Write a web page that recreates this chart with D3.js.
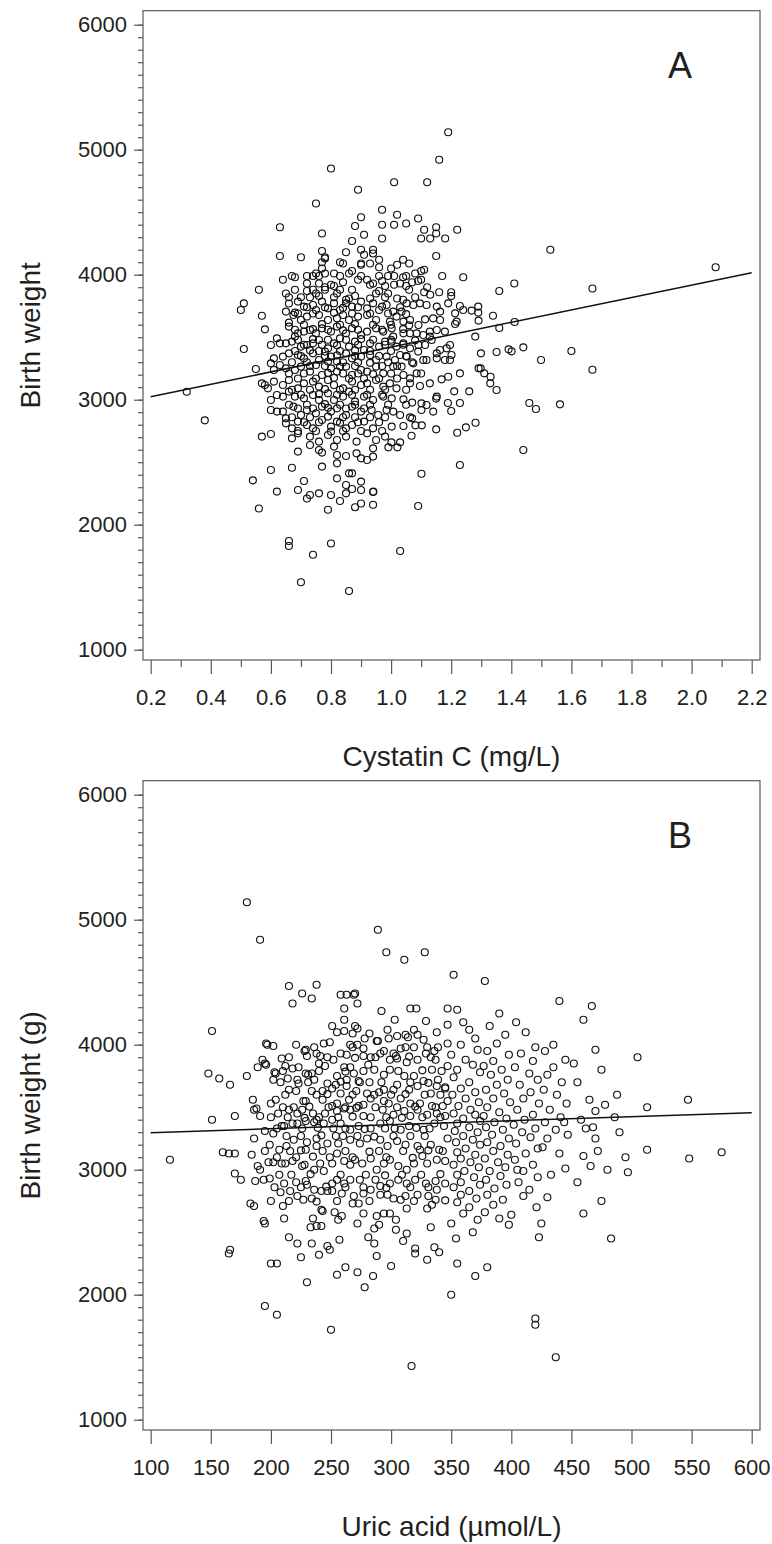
<!DOCTYPE html>
<html>
<head>
<meta charset="utf-8">
<script src="https://cdn.jsdelivr.net/npm/d3@7"></script>
<style>
  body { margin: 0; background: #fff; }
  text { font-family: "Liberation Sans", Arial, sans-serif; fill: #231f20; }
</style>
</head>
<body>
<div id="chart"></div>
<script>
// Panel A: cystatin C (mg/L) vs birth weight (g)
var cystatinPoints = [
  [1.19,5140],[1.16,4920],[1.01,4740],[1.12,4740],[0.80,4850],[0.89,4680],[0.75,4570],[0.97,4520],[0.90,4460],[1.02,4480],
  [1.09,4450],[0.88,4390],[0.63,4380],[0.97,4400],[1.01,4400],[1.05,4410],[1.11,4360],[1.15,4380],[1.22,4360],[0.77,4330],
  [0.91,4320],[0.87,4270],[0.97,4290],[1.10,4290],[1.13,4290],[1.15,4330],[1.18,4290],[1.53,4200],[0.63,4150],[0.70,4140],
  [0.77,4190],[0.78,4140],[0.78,4130],[0.77,4100],[0.85,4180],[0.90,4200],[0.91,4160],[0.90,4090],[0.90,4080],[0.94,4200],
  [0.94,4170],[0.93,4090],[0.96,4120],[0.96,4060],[0.83,4100],[0.84,4090],[1.15,4150],
  [0.81,4010],[0.83,3990],[0.77,4050],[0.78,4010],[0.76,3990],[0.75,4010],[0.74,3990],[0.72,3990],[0.67,3990],[0.68,3980],
  [0.64,3960],[0.56,3880],[0.65,3850],[0.66,3820],[0.68,3880],[0.72,3930],[0.72,3870],[0.73,3820],[0.74,3880],[0.75,3850],
  [0.78,3900],[0.78,3880],[0.80,3920],[0.81,3910],[0.82,3850],[0.83,3880],[0.85,3800],[0.86,3810],[0.87,3880],[0.89,3960],
  [0.90,3990],[0.92,3960],[0.93,3920],[0.94,3930],[0.95,3850],[0.87,4030],[0.86,4010],
  [1.00,4050],[1.02,4080],[1.04,4120],[1.06,4090],[1.10,4030],[1.08,4010],[1.11,4040],[1.10,3960],[0.96,3990],[0.99,3990],
  [1.01,3990],[1.04,3980],[1.05,3990],[0.98,3910],[1.01,3920],[1.03,3930],[1.05,3910],[1.06,3880],[1.09,3950],[1.12,3900],
  [1.11,3860],[1.13,3840],[1.16,3860],[1.20,3860],[1.20,3830],[1.17,3990],[1.24,3980],[0.96,3870],[0.99,3850],[1.02,3810],
  [1.04,3800],[1.41,3930],[1.36,3870],
  [0.66,3770],[0.69,3785],[0.71,3745],[0.74,3758],[0.75,3718],[0.77,3785],[0.79,3731],[0.81,3771],[0.83,3718],[0.85,3771],
  [0.87,3745],[0.90,3785],[0.92,3731],[0.94,3771],[0.96,3718],[0.65,3705],[0.68,3697],[0.50,3718],[0.51,3771],
  [0.675,3678],[0.70,3638],[0.72,3665],[0.76,3678],[0.79,3638],[0.82,3651],[0.84,3678],[0.86,3638],[0.89,3665],[0.92,3678],
  [0.95,3638],[0.66,3617],[0.57,3672],
  [0.66,3585],[0.69,3531],[0.71,3545],[0.73,3558],[0.75,3531],[0.77,3571],[0.80,3545],[0.82,3585],[0.85,3531],[0.87,3571],
  [0.90,3518],[0.92,3545],[0.95,3571],[0.68,3505],[0.58,3563],[0.62,3491],
  [0.65,3451],[0.67,3465],[0.70,3425],[0.72,3438],[0.74,3451],[0.76,3478],[0.79,3411],[0.81,3451],[0.83,3491],[0.86,3425],
  [0.88,3465],[0.91,3398],[0.93,3451],[0.96,3425],[0.63,3451],[0.60,3438],[0.51,3406],
  [0.64,3345],[0.66,3371],[0.69,3358],[0.71,3331],[0.74,3371],[0.76,3318],[0.78,3385],[0.80,3345],[0.82,3305],[0.85,3371],
  [0.87,3331],[0.90,3345],[0.93,3358],[0.95,3318],[0.61,3331],[0.63,3278],[0.60,3291],[0.61,3238],
  [0.65,3251],[0.68,3238],[0.70,3265],[0.73,3225],[0.75,3278],[0.77,3198],[0.80,3251],[0.82,3225],[0.85,3265],[0.87,3198],
  [0.90,3238],[0.92,3225],[0.95,3265],[0.55,3246],
  [0.57,3131],[0.58,3118],[0.59,3091],[0.61,3145],[0.64,3118],[0.66,3158],[0.69,3091],[0.71,3131],[0.74,3145],[0.76,3105],
  [0.79,3158],[0.81,3118],[0.84,3091],[0.87,3145],[0.90,3118],[0.92,3131],[0.95,3158],
  [0.60,2998],[0.62,3038],[0.64,3025],[0.66,3065],[0.68,3025],[0.71,3011],[0.74,3038],[0.76,2998],[0.79,3051],[0.81,2998],
  [0.84,3025],[0.86,3065],[0.88,2985],[0.91,3025],[0.94,2998],
  [0.62,2905],[0.64,2905],[0.65,2851],[0.675,2945],[0.70,2878],[0.72,2918],[0.75,2891],[0.77,2945],[0.80,2905],[0.82,2931],
  [0.85,2878],[0.87,2945],[0.90,2905],[0.935,2918],[0.957,2878],[0.60,2918],
  [0.65,2811],[0.67,2771],[0.69,2825],[0.72,2798],[0.74,2771],[0.77,2838],[0.80,2785],[0.82,2825],[0.85,2771],[0.87,2798],
  [0.91,2825],[0.94,2771],
  [0.57,2705],[0.60,2726],[0.67,2691],[0.69,2731],[0.73,2705],[0.76,2665],[0.79,2718],[0.82,2678],[0.85,2705],[0.885,2665],
  [0.92,2731],[0.95,2678],
  [0.69,2585],[0.73,2638],[0.76,2598],[0.77,2577],[0.81,2625],[0.82,2558],[0.85,2550],[0.885,2571],[0.90,2531],[0.94,2611],
  [0.67,2456],[0.77,2465],[0.82,2491],[0.86,2411],[0.87,2411],[0.92,2518],[0.94,2545],[0.60,2438],
  [0.82,2371],[0.54,2355],[0.71,2350],[0.90,2345],[0.85,2318],
  [0.62,2265],[0.69,2278],[0.73,2238],[0.76,2251],[0.80,2238],[0.85,2251],[0.87,2286],[0.90,2278],[0.94,2262],
  [0.32,3064],[0.38,2835],
  [0.985,3758],[1.007,3705],[1.035,3705],[1.052,3771],[1.074,3758],[1.096,3771],[1.118,3758],[1.152,3745],[1.19,3771],[1.229,3750],
  [1.29,3745],[1.29,3697],[1.268,3713],[1.24,3718],[1.213,3691],[1.163,3705],
  [0.996,3625],[1.018,3665],[1.041,3625],[1.063,3638],[1.091,3598],[1.113,3643],[1.14,3651],[1.163,3638],[1.179,3545],[1.218,3625],
  [1.213,3606],[1.339,3672],[1.291,3633],
  [0.974,3545],[1.002,3571],[1.007,3505],[1.041,3531],[1.063,3531],[1.085,3531],[1.107,3518],[1.129,3545],[1.152,3558],[1.129,3505],
  [1.28,3505],[1.36,3574],[1.411,3622],
  [0.98,3465],[1.002,3465],[1.018,3425],[1.041,3451],[1.063,3411],[1.091,3438],[1.113,3438],[1.135,3478],[1.163,3398],[1.185,3411],
  [1.196,3438],[1.152,3371],[1.299,3371],[1.351,3382],[1.391,3403],[1.401,3387],[1.44,3419],
  [0.985,3345],[1.013,3318],[1.03,3358],[1.052,3345],[1.074,3291],[1.107,3318],[1.118,3318],[1.152,3331],[1.179,3318],[1.196,3318],
  [1.201,3358],[1.499,3318],
  [0.974,3211],[1.007,3265],[1.035,3265],[1.041,3198],[1.063,3171],[1.085,3211],[1.168,3163],[1.19,3184],[1.229,3211],[1.291,3251],
  [1.298,3251],[1.31,3211],[1.331,3184],
  [0.974,3105],[0.996,3131],[1.018,3091],[1.063,3131],[1.096,3110],[1.129,3131],[1.21,3067],[1.26,3067],[1.33,3131],[1.351,3078],
  [0.974,3025],[1.002,3011],[1.041,3003],[1.07,2977],[1.101,2971],[1.118,2958],[1.152,3025],[1.15,3009],[1.189,2974],[1.229,2974],
  [1.46,2974],
  [0.985,2918],[1.007,2905],[1.03,2878],[1.063,2859],[1.101,2918],[1.14,2905],[1.2,2910],[1.482,2926],
  [1.002,2785],[1.041,2790],[1.07,2851],[1.081,2795],[1.102,2795],[1.15,2763],[1.22,2736],[1.249,2779],[1.281,2816],
  [0.98,2705],[1.001,2659],[1.03,2659],[1.068,2712],[0.991,2619],[1.021,2619],[1.44,2598],
  [1.101,2408],[1.229,2478],[0.941,2265],
  [0.56,2130],[0.66,1870],[0.66,1830],[0.70,1540],[0.74,1760],[0.80,1850],[0.86,1470],[1.03,1790],[0.72,2210],[0.83,2190],
  [0.88,2140],[0.90,2170],[0.79,2120],[0.94,2160],[1.09,2150],
  [1.562,2963],[1.60,3390],[1.67,3890],[1.67,3240],[2.08,4060],
  // dense core, second pass
  [0.76,3930],[0.84,3940],[0.97,3950],[1.07,3940],
  [0.70,3820],[0.76,3830],[0.81,3820],[0.88,3830],[0.93,3810],[0.98,3820],[1.08,3820],
  [0.72,3740],[0.78,3740],[0.84,3735],[0.89,3740],[0.97,3745],[1.03,3740],
  [0.69,3690],[0.74,3690],[0.81,3695],[0.87,3690],[0.93,3690],[0.99,3690],[1.05,3685],
  [0.71,3600],[0.77,3605],[0.83,3600],[0.88,3605],[0.94,3600],[1.00,3600],[1.06,3595],
  [0.68,3560],[0.74,3565],[0.79,3560],[0.84,3555],[0.89,3560],[0.97,3560],[1.04,3565],
  [0.69,3480],[0.74,3485],[0.79,3480],[0.85,3480],[0.90,3485],[0.94,3480],[1.00,3480],[1.08,3475],
  [0.71,3440],[0.77,3440],[0.82,3435],[0.89,3440],[0.98,3440],[1.04,3440],
  [0.68,3390],[0.73,3395],[0.76,3390],[0.83,3390],[0.88,3395],[0.93,3390],[1.00,3390],[1.09,3385],
  [0.70,3350],[0.78,3350],[0.82,3355],[0.88,3350],[0.96,3350],[1.05,3350],
  [0.67,3300],[0.72,3300],[0.79,3305],[0.84,3300],[0.89,3300],[0.93,3295],[0.99,3300],[1.07,3300],
  [0.73,3270],[0.78,3270],[0.83,3265],[0.88,3270],[0.97,3270],[1.02,3270],
  [0.66,3210],[0.71,3210],[0.79,3215],[0.84,3210],[0.89,3210],[0.94,3205],[1.00,3210],[1.10,3210],
  [0.69,3170],[0.75,3170],[0.81,3175],[0.86,3170],[0.91,3170],[0.96,3170],[1.02,3170],
  [0.67,3080],[0.73,3080],[0.78,3085],[0.83,3080],[0.88,3080],[0.93,3080],[0.98,3080],[1.05,3080],
  [0.70,3040],[0.76,3045],[0.82,3040],[0.87,3040],[0.92,3040],[0.97,3040],
  [0.66,2960],[0.72,2960],[0.78,2965],[0.83,2960],[0.88,2960],[0.93,2960],[0.99,2960],[1.05,2960],
  [0.69,2930],[0.74,2930],[0.79,2935],[0.85,2930],[0.91,2930],
  [0.67,2860],[0.73,2860],[0.79,2865],[0.84,2860],[0.88,2860],[0.93,2860],[0.98,2860],
  [0.71,2820],[0.76,2820],[0.83,2815],[0.89,2820],[0.96,2820],
  [0.69,2750],[0.75,2750],[0.80,2745],[0.84,2750],[0.90,2750],[0.97,2750]
];

// Panel B: uric acid (umol/L) vs birth weight (g)
var uricPoints = [
  [180,5140],[191,4840],[289,4920],[296,4740],[311,4680],[328,4740],
  [215,4470],[238,4480],[226,4410],[234,4370],[218,4330],[258,4400],[263,4400],[269,4400],[270,4410],[272,4330],[261,4290],
  [292,4270],[303,4200],[316,4290],[321,4290],[329,4190],[347,4290],[347,4160],[151,4110],
  [261,4200],[251,4150],[255,4100],[261,4110],[270,4150],[272,4130],[268,4090],
  [282,4090],[278,4050],[288,4030],[289,4030],[297,4120],[298,4050],[305,4070],[312,4080],[314,4060],[319,4120],[322,4080],
  [327,4040],[338,4100],[347,4010],
  [196,4010],[197,4000],[202,3990],[221,4000],[229,3960],[228,3950],[236,3980],[244,4010],[249,4020],[238,3930],[241,3910],
  [230,3910],[266,4000],[268,3980],[272,4000],[277,3970],[294,3950],[302,3930],[308,3970],[312,3980],[319,3980],[330,3980],
  [336,3950],[339,3980],
  [193,3880],[195,3850],[189,3820],[196,3840],[209,3890],[212,3830],[218,3810],[223,3820],[229,3770],[234,3770],[240,3850],
  [245,3830],[252,3880],[258,3930],[261,3820],[266,3820],[255,3750],[263,3920],[277,3910],[283,3900],[291,3930],[299,3880],
  [304,3910],[305,3890],[313,3860],[322,3880],[329,3930],[337,3880],[347,3830],
  [148,3770],[157,3730],[166,3680],[180,3750],[203,3780],[204,3770],[202,3720],[214,3730],[222,3720],[223,3690],[231,3760],
  [236,3720],[247,3690],[254,3680],[263,3720],[269,3770],[273,3710],[274,3700],[281,3840],[286,3800],[294,3760],[299,3800],
  [305,3680],[311,3750],[319,3750],[327,3710],[334,3800],[339,3720],[345,3650],
  [215,3640],[221,3630],[234,3630],[243,3630],[251,3650],[258,3610],[263,3670],[271,3630],[280,3610],[290,3620],[294,3640],
  [302,3640],[308,3570],[315,3640],[322,3670],[333,3610],[338,3670],[345,3660],[185,3560],[200,3530],[204,3560],[227,3550],
  [229,3550],[243,3560],[255,3530],[265,3560],[277,3520],[283,3570],[294,3550],[298,3530],[316,3530],[324,3530],[334,3510],
  [343,3510],[347,3550],
  [151,3400],[170,3430],[186,3480],[188,3490],[191,3430],[206,3450],[215,3480],[222,3450],[226,3480],[235,3450],[238,3400],
  [245,3450],[251,3510],[255,3470],[261,3490],[266,3480],[273,3510],[277,3430],[293,3480],[302,3440],[311,3470],[316,3430],
  [322,3480],[330,3440],[338,3450],[345,3430],
  [195,3310],[202,3290],[209,3350],[211,3350],[218,3370],[222,3370],[229,3390],[236,3380],[244,3370],[251,3400],[258,3370],
  [266,3320],[273,3350],[283,3330],[291,3370],[299,3390],[308,3320],[315,3350],[327,3320],[336,3370],[344,3350],
  [116,3080],[160,3140],[165,3130],[170,3130],[184,3120],[186,3250],[199,3200],[207,3160],[213,3190],[219,3240],[230,3220],
  [238,3250],[247,3210],[254,3270],[256,3210],[266,3240],[274,3210],[280,3250],[291,3240],[297,3190],[305,3230],[312,3200],
  [322,3190],[324,3160],[333,3200],[340,3160],[347,3250],[229,3160],[238,3190],
  [189,3030],[191,3000],[198,3060],[202,3060],[209,3050],[212,3050],[218,3070],[226,3030],[228,3040],[236,3000],[241,3050],
  [244,2990],[251,3050],[255,3130],[261,3070],[266,3040],[270,3080],[276,3050],[283,3090],[288,3000],[294,3050],[299,3080],
  [306,3030],[313,3000],[319,3050],[326,3110],[330,3050],[338,3080],[345,3070],
  [170,2970],[175,2920],[187,2910],[194,2920],[199,2930],[211,2890],[216,2830],[221,2900],[229,2910],[230,2880],[236,2840],
  [242,2830],[247,2830],[251,2890],[255,2920],[261,2890],[266,2920],[274,2920],[283,2840],[287,2920],[291,2870],[299,2890],
  [306,2920],[313,2890],[320,2920],[329,2890],[337,2910],[338,2840],[345,2890],
  [208,2820],[222,2790],[227,2760],[234,2770],[251,2830],[259,2810],[269,2790],[277,2810],[291,2800],[297,2800],[302,2770],
  [308,2760],[312,2790],[322,2800],[331,2790],[337,2760],
  [183,2730],[186,2710],[210,2710],[242,2680],[243,2670],[253,2660],[259,2630],[268,2730],[273,2730],[277,2650],[288,2630],
  [294,2650],[299,2650],[304,2600],[313,2690],[330,2690],[334,2720],
  [194,2590],[195,2570],[211,2610],[235,2610],[233,2540],[238,2550],[242,2550],[256,2600],[272,2570],[286,2530],[290,2560],
  [304,2520],[313,2490],[333,2540],
  [215,2460],[222,2410],[234,2410],[247,2390],[257,2440],[281,2460],[286,2410],[310,2430],[320,2370],[336,2380],[166,2360],
  [249,2360],
  [165,2330],[200,2250],[205,2250],[195,1910],[205,1840],[250,1720],[278,2060],[317,1430],[230,2100],[255,2160],[262,2220],
  [285,2150],[300,2230],[320,2330],[340,2340],[350,2000],[370,2150],[355,2250],[380,2220],[225,2300],[240,2320],[272,2180],
  [288,2310],[330,2280],
  [352,4560],[355,4280],[360,4180],[365,4120],[370,4050],[358,4000],[372,3960],[350,3920],[362,3880],[368,3840],[355,3800],
  [374,3780],[352,3740],[365,3700],[358,3650],[370,3620],[351,3600],[362,3570],[373,3540],[356,3510],[366,3480],[352,3450],
  [370,3440],[360,3410],[374,3390],[355,3370],[365,3340],[353,3310],[372,3300],[360,3270],[368,3240],[354,3220],[374,3200],
  [362,3170],[355,3140],[370,3120],[358,3090],[366,3060],[352,3040],[373,3020],[361,2990],[355,2960],[369,2940],[358,2900],
  [374,2880],[352,2860],[365,2830],[358,2800],[371,2770],[355,2740],[365,2700],[360,2650],[372,2600],[350,2570],[368,2500],
  [354,2450],
  [378,4510],[390,4250],[382,4150],[395,4080],[388,4010],[380,3950],[398,3920],[385,3870],[377,3830],[392,3800],[383,3760],
  [397,3720],[388,3680],[379,3640],[394,3610],[385,3570],[399,3540],[380,3500],[390,3460],[377,3430],[396,3410],[386,3380],
  [379,3340],[393,3320],[384,3280],[398,3250],[380,3220],[391,3190],[385,3150],[397,3120],[378,3090],[389,3060],[395,3020],
  [382,2990],[391,2950],[379,2920],[396,2880],[386,2850],[380,2800],[393,2760],[385,2720],[390,2610],[378,2660],[398,2560],
  [404,4180],[412,4100],[420,3980],[408,3930],[418,3870],[403,3820],[415,3770],[422,3720],[407,3680],[416,3620],[410,3570],
  [423,3530],[405,3480],[418,3440],[411,3400],[402,3360],[420,3330],[409,3300],[416,3260],[404,3210],[422,3170],[412,3130],
  [403,3080],[418,3040],[410,2990],[422,2940],[406,2900],[415,2840],[410,2790],[400,2640],[421,2700],[405,3000],
  [440,4350],[435,4000],[428,3950],[445,3880],[435,3820],[430,3760],[442,3700],[427,3640],[438,3600],[446,3530],[432,3480],
  [441,3420],[428,3380],[437,3320],[447,3280],[430,3250],[440,3130],[426,3180],[445,3010],[433,2960],[430,2780],[425,2570],
  [437,1500],[423,2460],[420,1810],[420,1760],[444,3380],
  [467,4310],[460,4200],[470,3960],[475,3800],[455,3700],[478,3520],[470,3470],[486,3420],[460,3110],[470,3250],[480,3000],
  [497,2980],[483,2450],[465,3560],[458,3400],[490,3300],[462,3330],[472,3150],[455,2900],[466,3030],[488,3600],[452,3850],
  [495,3100],[475,2750],[460,2650],[468,3340],
  [505,3900],[513,3500],[547,3560],[548,3090],[513,3160],[575,3140],
  // dense core, second pass
  [215,3900],[247,3900],[270,3895],[287,3900],[315,3905],[333,3900],
  [210,3790],[240,3790],[262,3785],[277,3790],[306,3790],[326,3795],[342,3790],
  [208,3700],[231,3700],[258,3705],[282,3700],[292,3700],[316,3700],[331,3695],
  [212,3600],[238,3600],[247,3605],[268,3600],[286,3600],[300,3600],[312,3605],[328,3600],[341,3600],
  [210,3500],[219,3500],[232,3505],[248,3500],[262,3500],[271,3495],[287,3500],[305,3500],[320,3505],[337,3500],
  [200,3420],[214,3420],[228,3415],[240,3420],[256,3420],[268,3425],[283,3420],[296,3420],[309,3415],[326,3420],[341,3420],
  [205,3330],[226,3330],[239,3335],[252,3330],[262,3330],[278,3325],[295,3330],[303,3330],[321,3335],[332,3330],
  [213,3270],[225,3270],[242,3275],[260,3270],[272,3270],[286,3265],[302,3270],[316,3270],[328,3270],
  [195,3150],[216,3150],[225,3155],[243,3150],[262,3150],[282,3145],[290,3150],[310,3150],[331,3155],[343,3150],
  [205,3100],[221,3100],[235,3105],[249,3100],[268,3100],[296,3100],[318,3095],
  [207,2960],[217,2960],[233,2965],[258,2960],[279,2960],[295,2955],[309,2960],[325,2960],[341,2965],
  [203,2860],[225,2860],[246,2865],[262,2860],[277,2860],[296,2855],[316,2860],[331,2860],
  [200,2750],[215,2750],[238,2745],[255,2750],[282,2750],[319,2750],[345,2755]
];

// fitted regression lines (end points)
var cystatinFit = [[0.2, 3024], [2.2, 4016]];
var uricFit = [[100, 3296], [600, 3456]];

var weightTicks = [1000, 2000, 3000, 4000, 5000, 6000];
var cystatinTicks = [0.2, 0.4, 0.6, 0.8, 1.0, 1.2, 1.4, 1.6, 1.8, 2.0, 2.2];
var cystatinMinor = [0.3, 0.5, 0.7, 0.9, 1.1, 1.3, 1.5, 1.7, 1.9, 2.1];
var uricTicks = [100, 150, 200, 250, 300, 350, 400, 450, 500, 550, 600];

var svgWidth = 772;
var svgHeight = 1544;

var svg = d3.select("#chart")
  .append("svg")
  .attr("width", svgWidth)
  .attr("height", svgHeight);

var frame = { left: 143, right: 760, top: 10.7, bottom: 660 };

function drawPanel(cfg) {
  var g = svg.append("g")
    .attr("transform", `translate(0, ${cfg.offset})`);

  var x = d3.scaleLinear().domain(cfg.xDomain).range([150.7, 751.7]);
  var y = d3.scaleLinear().domain([1000, 6000]).range([649.7, 24.7]);

  // frame
  g.append("rect")
    .attr("x", frame.left)
    .attr("y", frame.top)
    .attr("width", frame.right - frame.left)
    .attr("height", frame.bottom - frame.top)
    .attr("fill", "none")
    .attr("stroke", "#58595b")
    .attr("stroke-width", 1.2);

  // y axis: minor ticks every 100 g, labelled every 1000 g
  g.append("g")
    .attr("transform", `translate(${frame.left},0)`)
    .call(d3.axisLeft(y).tickValues(d3.range(1000, 6001, 100)).tickSize(5).tickFormat(""));
  g.append("g")
    .attr("transform", `translate(${frame.left},0)`)
    .call(d3.axisLeft(y).tickValues(weightTicks).tickSize(9).tickPadding(7).tickFormat(d3.format("d")));

  // x axis
  g.append("g")
    .attr("transform", `translate(0,${frame.bottom})`)
    .call(d3.axisBottom(x).tickValues(cfg.xTicks).tickSize(14).tickPadding(15).tickFormat(cfg.xFormat));
  if (cfg.xMinor) {
    g.append("g")
      .attr("transform", `translate(0,${frame.bottom})`)
      .call(d3.axisBottom(x).tickValues(cfg.xMinor).tickSize(7).tickFormat(""));
  }

  g.selectAll(".domain").remove();
  g.selectAll(".tick line").attr("stroke", "#58595b").attr("stroke-width", 1.2);
  g.selectAll(".tick text")
    .attr("font-size", "22px")
    .attr("font-family", "'Liberation Sans', Arial, sans-serif")
    .attr("fill", "#231f20");

  // points
  g.append("g")
    .selectAll("circle")
    .data(cfg.points)
    .enter()
    .append("circle")
    .attr("cx", d => x(d[0]))
    .attr("cy", d => y(d[1]))
    .attr("r", 3.5)
    .attr("fill", "none")
    .attr("stroke", "#111")
    .attr("stroke-width", 1.15);

  // fitted line
  g.append("path")
    .datum(cfg.fit)
    .attr("d", d3.line().x(d => x(d[0])).y(d => y(d[1])))
    .attr("fill", "none")
    .attr("stroke", "#111")
    .attr("stroke-width", 1.5);

  // panel letter
  g.append("text")
    .attr("x", 680)
    .attr("y", 78)
    .attr("text-anchor", "middle")
    .attr("font-size", "36px")
    .text(cfg.letter);

  // axis titles
  g.append("text")
    .attr("x", (frame.left + frame.right) / 2)
    .attr("y", 766)
    .attr("text-anchor", "middle")
    .attr("font-size", "28px")
    .text(cfg.xTitle);

  g.append("text")
    .attr("transform", `translate(40, ${(frame.top + frame.bottom) / 2}) rotate(-90)`)
    .attr("text-anchor", "middle")
    .attr("font-size", "28px")
    .text(cfg.yTitle);
}

drawPanel({
  offset: 0,
  points: cystatinPoints,
  fit: cystatinFit,
  xDomain: [0.2, 2.2],
  xTicks: cystatinTicks,
  xMinor: cystatinMinor,
  xFormat: d3.format(".1f"),
  letter: "A",
  xTitle: "Cystatin C (mg/L)",
  yTitle: "Birth weight"
});

drawPanel({
  offset: 770,
  points: uricPoints,
  fit: uricFit,
  xDomain: [100, 600],
  xTicks: uricTicks,
  xMinor: null,
  xFormat: d3.format("d"),
  letter: "B",
  xTitle: "Uric acid (\u00b5mol/L)",
  yTitle: "Birth weight (g)"
});
</script>
</body>
</html>
